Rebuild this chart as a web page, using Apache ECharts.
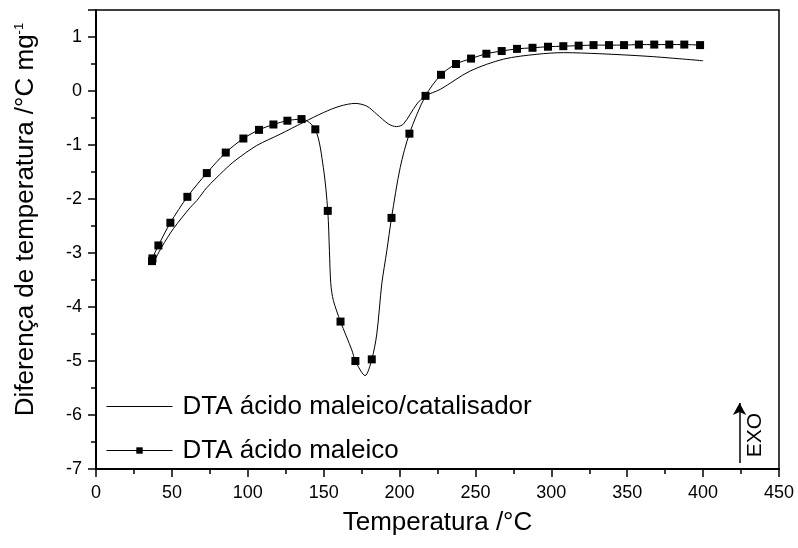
<!DOCTYPE html>
<html>
<head>
<meta charset="utf-8">
<script src="https://cdn.jsdelivr.net/npm/echarts@6/dist/echarts.min.js"></script>
<style>html,body{margin:0;padding:0;background:#fff;}#c{width:798px;height:548px;}</style>
</head>
<body>
<div id="c"></div>
<script>
// DTA ácido maleico/catalisador (plain line)
const catT = [37.5, 43.3, 51, 62, 66.4, 73, 84, 91.6, 105.9, 121.3, 136.7, 149.8, 160.8, 170.7, 178.4, 185, 192.7, 198, 202.6, 211.4, 217.1, 226.8, 246.5, 268.5, 290.5, 308, 332, 365, 400];
const catY = [-3.2, -2.89, -2.55, -2.16, -2.03, -1.79, -1.48, -1.29, -1.01, -0.80, -0.58, -0.40, -0.28, -0.23, -0.28, -0.43, -0.61, -0.66, -0.61, -0.24, -0.09, 0.03, 0.37, 0.59, 0.68, 0.71, 0.69, 0.64, 0.56];

// DTA ácido maleico: points carrying a square marker
const acidMarkT = [36.9, 37.2, 41.1, 49, 60.2, 73, 85.5, 97.1, 107.4, 116.9, 126.1, 135.4, 144.5, 152.7, 161.1, 170.9, 181.7, 194.7, 206.5, 217.1, 227.3, 237.2, 247.1, 257.2, 267.3, 277.4, 287.6, 297.8, 307.9, 318, 327.8, 338, 347.9, 357.7, 367.8, 377.7, 387.6, 398];
const acidMarkY = [-3.15, -3.10, -2.86, -2.44, -1.96, -1.52, -1.14, -0.88, -0.72, -0.62, -0.55, -0.52, -0.71, -2.22, -4.27, -5.0, -4.97, -2.35, -0.79, -0.09, 0.30, 0.50, 0.60, 0.69, 0.74, 0.78, 0.80, 0.82, 0.83, 0.84, 0.85, 0.85, 0.85, 0.86, 0.86, 0.86, 0.86, 0.85];
// DTA ácido maleico: curve points between markers (no marker)
const acidCurveT = [149.8, 153.8, 154.7, 156.4, 168.6, 177.3, 185, 188.3, 191.6, 200.4];
const acidCurveY = [-1.42, -2.96, -3.57, -3.88, -4.80, -5.27, -4.50, -3.57, -2.96, -1.42];

// EXO annotation
const exoArrowT = [424, 424];
const exoArrowY = [-6.89, -5.78];
const exoLabelT = 434.4;
const exoLabelY = -6.37;

const seriesNames = ['DTA ácido maleico/catalisador', 'DTA ácido maleico'];
const xTitle = 'Temperatura /°C';
const yTitle = 'Diferença de temperatura /°C mg{sup|-1}';

const catData = catT.map((t, i) => [t, catY[i]]);
const acidPts = acidMarkT.map((t, i) => ({ value: [t, acidMarkY[i]], mark: true }))
  .concat(acidCurveT.map((t, i) => ({ value: [t, acidCurveY[i]], mark: false })))
  .sort((a, b) => a.value[0] - b.value[0]);
const acidData = acidPts.map(p => p.mark ? { value: p.value } : { value: p.value, symbol: 'none' });

const FONT = 'Liberation Sans, Arial, sans-serif';
const chart = echarts.init(document.getElementById('c'));
chart.setOption({
  animation: false,
  backgroundColor: '#fff',
  textStyle: { fontFamily: FONT, color: '#000' },
  grid: { left: 96, right: 19, top: 10, bottom: 79, show: true, borderColor: '#000', borderWidth: 1.5, containLabel: false },
  legend: {
    orient: 'vertical', left: 101, top: 387, itemGap: 15, itemWidth: 66, itemHeight: 8,
    lineStyle: { width: 1 },
    data: [
      { name: seriesNames[0], icon: 'path://M0,0 L66,0 L66,1 L0,1 Z' },
      { name: seriesNames[1] }
    ],
    textStyle: { fontSize: 26, color: '#000', fontFamily: FONT, lineHeight: 29, padding: [0, 0, 0, 5] }
  },
  xAxis: {
    type: 'value', min: 0, max: 450, interval: 50,
    name: xTitle, nameLocation: 'middle', nameGap: 41,
    nameTextStyle: { fontSize: 26, color: '#000', fontFamily: FONT },
    axisLine: { show: true, onZero: false, lineStyle: { color: '#000', width: 2 } },
    axisTick: { show: true, inside: false, length: 8, lineStyle: { color: '#000', width: 1.5 } },
    minorTick: { show: true, splitNumber: 2, length: 5, lineStyle: { color: '#000', width: 1.5 } },
    axisLabel: { fontSize: 18, color: '#000', margin: 15, fontFamily: FONT },
    splitLine: { show: false }
  },
  yAxis: {
    type: 'value', min: -7, max: 1.5, interval: 1,
    name: yTitle, nameLocation: 'middle', nameGap: 57, nameRotate: 90,
    nameTextStyle: { fontSize: 26, color: '#000', fontFamily: FONT, padding: [0, 0, 0, 40],
      rich: { sup: { fontSize: 13, color: '#000', fontFamily: FONT, verticalAlign: 'top', lineHeight: 13, padding: [0, 0, 11, 0] } } },
    axisLine: { show: true, onZero: false, lineStyle: { color: '#000', width: 2 } },
    axisTick: { show: true, inside: false, length: 8, lineStyle: { color: '#000', width: 1.5 } },
    minorTick: { show: true, splitNumber: 2, length: 5, lineStyle: { color: '#000', width: 1.5 } },
    axisLabel: { fontSize: 18, color: '#000', margin: 14, fontFamily: FONT,
      formatter: v => (v === 1.5 ? '' : String(v)), showMaxLabel: false },
    splitLine: { show: false }
  },
  series: [
    {
      name: seriesNames[0], type: 'line', data: catData, smooth: 0.3,
      symbol: 'none', showSymbol: false,
      lineStyle: { color: '#000', width: 1 }, itemStyle: { color: '#000' },
      markLine: {
        silent: true, symbol: ['none', 'arrow'], symbolSize: [10, 12],
        label: { show: false },
        lineStyle: { color: '#000', width: 1.5, type: 'solid' },
        data: [[{ coord: [exoArrowT[0], exoArrowY[0]] }, { coord: [exoArrowT[1], exoArrowY[1]] }]]
      },
      markPoint: {
        silent: true, symbol: 'circle', symbolSize: 1, itemStyle: { color: 'rgba(0,0,0,0)' },
        label: { show: true, formatter: 'EXO', rotate: 90, fontSize: 21, color: '#000', fontFamily: FONT, position: 'inside' },
        data: [{ coord: [exoLabelT, exoLabelY] }]
      }
    },
    {
      name: seriesNames[1], type: 'line', data: acidData, smooth: 0.3,
      symbol: 'rect', symbolSize: 8, showAllSymbol: true, showSymbol: true,
      lineStyle: { color: '#000', width: 1 }, itemStyle: { color: '#000' }
    }
  ]
});
</script>
</body>
</html>
